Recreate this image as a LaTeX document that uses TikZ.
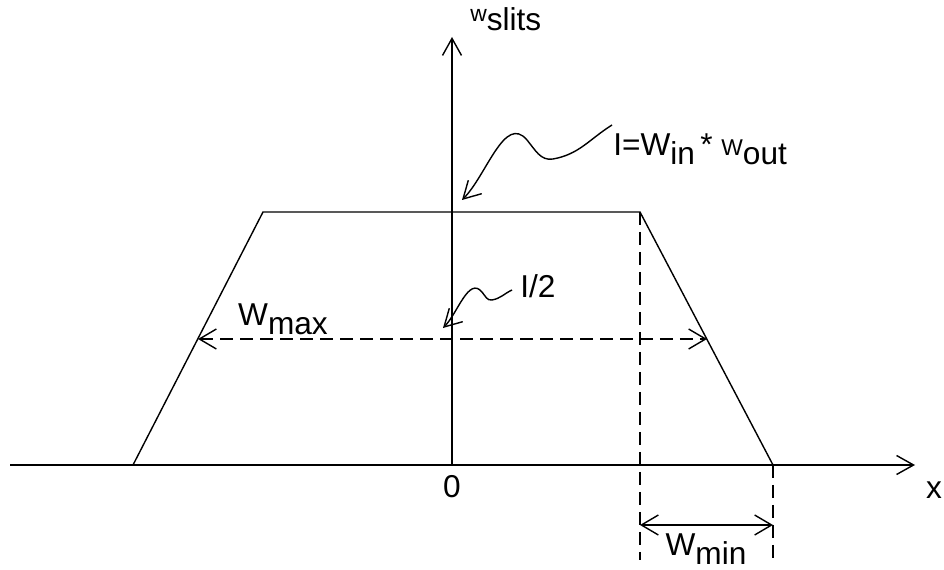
\documentclass[tikz,border=0pt]{standalone}
\usepackage{fontspec}
\setmainfont{Liberation Sans}
\usetikzlibrary{arrows.meta}
\begin{document}
\begin{tikzpicture}[x=0.02cm,y=0.02cm]
		% Styles (MODIFIABLES)
		\tikzstyle{trait}=[line width=0.8pt]
		\tikzstyle{pointe}=[-{Straight Barb[length=0.34cm,width=0.38cm]}]
		\tikzstyle{fleche}=[trait,pointe]
		\tikzstyle{tirets}=[trait,dash pattern=on 0.26cm off 0.14cm]
		\tikzstyle{cote}=[tirets,{Straight Barb[length=0.34cm,width=0.4cm]}-{Straight Barb[length=0.34cm,width=0.4cm]}]
		\tikzstyle{etiquette}=[font=\fontsize{18}{21}\selectfont,inner sep=0pt]
		\newcommand{\Indice}[1]{\raisebox{-0.55ex}{#1}}
		\newcommand{\Petit}[1]{{\fontsize{13}{15}\selectfont #1}}
		% Dimensions (MODIFIABLES)
		\def\Axe{104}
		\def\Plateau{357}
		\def\MiHauteur{230}
		\def\Cote{44}
		\def\Pied{9}
		\useasboundingbox (0,0) rectangle (944,569);
		% Noeuds
		\coordinate (xdeb) at (10,\Axe);
		\coordinate (xfin) at (915,\Axe);
		\coordinate (O) at (452,\Axe);
		\coordinate (yfin) at (452,532);
		\coordinate (A) at (133,\Axe);
		\coordinate (B) at (263,\Plateau);
		\coordinate (C) at (640,\Plateau);
		\coordinate (D) at (773,\Axe);
		\coordinate (Mg) at (198,\MiHauteur);
		\coordinate (Md) at (707,\MiHauteur);
		\coordinate (Cbas) at (640,\Pied);
		\coordinate (Dbas) at (773,\Pied);
		\coordinate (Cg) at (640,\Cote);
		\coordinate (Cd) at (773,\Cote);
		%
		\node[etiquette] (labx) at (934,79) {x};
		\node[etiquette] (lab0) at (452,82) {0};
		\node[etiquette,anchor=south west] (laby) at (470,538) {\Petit{w}\Indice{slits}};
		\node[etiquette,anchor=west] (labI) at (613,420) {I=W\Indice{in}\,* \Petit{W}\Indice{out}};
		\node[etiquette,anchor=west] (labdemi) at (520,283) {I/2};
		\node[etiquette] (labmax) at (283,250) {W\Indice{max}};
		\node[etiquette] (labmin) at (706,20) {W\Indice{min}};
		% Squiggles
		\coordinate (I1) at (612,444);
		\coordinate (I2) at (553,410);
		\coordinate (I3) at (527,429);
		\coordinate (I4) at (462,369);
		\coordinate (H1) at (512,279);
		\coordinate (H2) at (492,269);
		\coordinate (H3) at (482,277);
		\coordinate (H4) at (443,241);
		% Arcs
		\draw[fleche] (xdeb)--(xfin);
		\draw[fleche] (O)--(yfin);
		\draw[trait] (A)--(B)--(C)--(D);
		\draw[tirets] (C)--(Cbas);
		\draw[tirets] (D)--(Dbas);
		\draw[cote] (Mg)--(Md);
		\draw[trait,{Straight Barb[length=0.34cm,width=0.4cm]}-{Straight Barb[length=0.34cm,width=0.4cm]}] (Cg)--(Cd);
		\draw[fleche] (I1) to[out=212,in=10] (I2) to[out=190,in=-50] (I3) to[out=130,in=45] (I4);
		\draw[fleche] (H1) to[out=205,in=10] (H2) to[out=190,in=-50] (H3) to[out=130,in=45] (H4);
	\end{tikzpicture}
\end{document}
